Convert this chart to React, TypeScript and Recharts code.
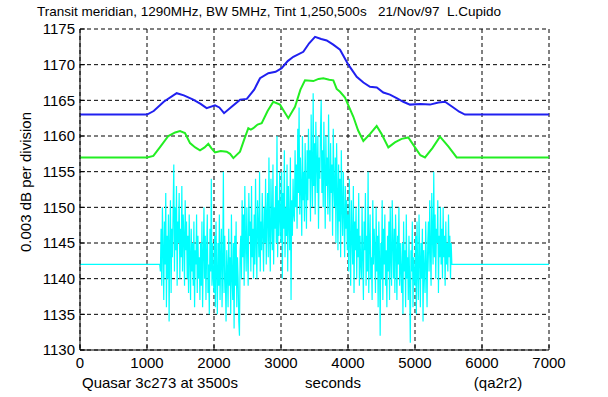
import { LineChart, Line, XAxis, YAxis, CartesianGrid } from 'recharts';

const xTicks = [0, 1000, 2000, 3000, 4000, 5000, 6000, 7000];
const yTicks = [1130, 1135, 1140, 1145, 1150, 1155, 1160, 1165, 1170, 1175];

const blueTimes = [0, 1000, 1100, 1250, 1443, 1550, 1690, 1800, 1890, 2015, 2080, 2150, 2250, 2390, 2490, 2600, 2687, 2811, 2920, 3010, 3100, 3184, 3333, 3420, 3508, 3600, 3682, 3780, 3881, 4005, 4130, 4230, 4328, 4430, 4527, 4626, 4726, 4825, 4925, 5080, 5224, 5350, 5448, 5572, 5660, 5746, 7000];
const blueValues = [1163, 1163, 1163.5, 1164.8, 1166.0, 1165.7, 1165.1, 1164.5, 1163.9, 1164.3, 1164.0, 1163.2, 1164.0, 1165.1, 1165.2, 1166.5, 1168.1, 1168.8, 1169.0, 1169.5, 1170.5, 1171.1, 1171.8, 1173.0, 1173.9, 1173.6, 1173.4, 1172.8, 1172.1, 1170.0, 1168.3, 1167.5, 1166.9, 1166.8, 1166.1, 1165.8, 1165.3, 1164.8, 1164.4, 1164.5, 1164.4, 1164.7, 1164.8, 1164.0, 1163.4, 1163, 1163];

const greenTimes = [0, 1000, 1095, 1200, 1318, 1420, 1493, 1567, 1642, 1720, 1791, 1860, 1915, 1960, 2015, 2100, 2189, 2240, 2289, 2388, 2450, 2512, 2550, 2587, 2650, 2712, 2800, 2885, 2985, 3050, 3109, 3209, 3290, 3358, 3483, 3560, 3632, 3720, 3781, 3831, 3881, 3955, 4080, 4150, 4229, 4330, 4428, 4500, 4602, 4700, 4800, 4900, 5000, 5080, 5149, 5260, 5373, 5500, 5622, 7000];
const greenValues = [1157, 1157, 1157.2, 1158.5, 1160.0, 1160.5, 1160.7, 1160.4, 1159.0, 1158.4, 1158.0, 1158.4, 1158.9, 1158.3, 1157.7, 1157.9, 1157.8, 1157.5, 1156.9, 1157.8, 1159.5, 1161.1, 1160.9, 1161.1, 1161.6, 1161.8, 1163.5, 1164.8, 1164.4, 1163.4, 1162.5, 1164.1, 1166.5, 1167.8, 1167.7, 1168.0, 1168.1, 1167.9, 1167.8, 1166.6, 1166.2, 1165.4, 1162.7, 1160.8, 1159.3, 1160.3, 1161.4, 1160.3, 1158.4, 1159.1, 1159.6, 1159.8, 1158.4, 1157.3, 1157.0, 1158.3, 1159.9, 1158.5, 1157.0, 1157];

// cyan: flat baseline, raw samples every 10 s from 1200 s to 5540 s
const cyanBase = 1142;
const cyanStart = 1200;
const cyanStep = 10;
const cyanSamples = [
  1141, 1147, 1139, 1150, 1144, 1137, 1148, 1142, 1152, 1136, 1146, 1140, 1149, 1134, 1145, 1151, 1138, 1147, 1143, 1150,
  1156, 1141, 1150, 1144, 1153, 1139, 1148, 1145, 1152, 1140, 1147, 1143, 1153, 1141, 1149, 1146, 1139, 1151, 1144, 1148,
  1140, 1146, 1138, 1149, 1143, 1137, 1147, 1141, 1145, 1139, 1148, 1136, 1144, 1142, 1149, 1138, 1146, 1140, 1143, 1137,
  1145, 1139, 1148, 1136, 1143, 1150, 1140, 1146, 1137, 1144, 1149, 1138, 1142, 1135, 1147, 1141, 1154, 1139, 1145, 1140,
  1138, 1146, 1136, 1148, 1141, 1135, 1145, 1139, 1149, 1137, 1143, 1147, 1136, 1142, 1155, 1138, 1146, 1140, 1134, 1144,
  1141, 1136, 1147, 1139, 1143, 1135, 1149, 1140, 1137, 1145, 1133, 1146, 1139, 1148, 1136, 1143, 1140, 1134, 1132, 1144,
  1146, 1140, 1151, 1143, 1149, 1139, 1153, 1145, 1141, 1150, 1144, 1139, 1152, 1146, 1148, 1141, 1153, 1143, 1147, 1140,
  1149, 1142, 1154, 1145, 1140, 1151, 1147, 1143, 1155, 1141, 1148, 1144, 1152, 1146, 1141, 1150, 1145, 1154, 1142, 1149,
  1152, 1143, 1157, 1146, 1141, 1154, 1148, 1144, 1156, 1142, 1150, 1147, 1153, 1145, 1160, 1143, 1151, 1146, 1155, 1148,
  1145, 1155, 1140, 1152, 1147, 1158, 1143, 1150, 1146, 1156, 1141, 1153, 1148, 1144, 1157, 1137, 1151, 1146, 1154, 1149,
  1148, 1158, 1150, 1156, 1147, 1161, 1152, 1164, 1149, 1157, 1153, 1146, 1160, 1151, 1155, 1148, 1159, 1153, 1147, 1158,
  1151, 1161, 1154, 1158, 1148, 1163, 1155, 1150, 1166, 1153, 1159, 1149, 1162, 1156, 1152, 1160, 1147, 1157, 1154, 1161,
  1165, 1152, 1158, 1150, 1162, 1155, 1147, 1160, 1153, 1157, 1149, 1163, 1154, 1148, 1159, 1152, 1156, 1146, 1161, 1153,
  1150, 1157, 1145, 1159, 1152, 1144, 1156, 1148, 1154, 1143, 1158, 1150, 1146, 1155, 1149, 1143, 1153, 1147, 1151, 1144,
  1149, 1141, 1154, 1145, 1139, 1151, 1146, 1142, 1153, 1138, 1148, 1144, 1150, 1140, 1147, 1143, 1152, 1139, 1146, 1142,
  1140, 1150, 1143, 1137, 1148, 1144, 1152, 1139, 1146, 1141, 1155, 1138, 1145, 1149, 1140, 1143, 1137, 1151, 1142, 1147,
  1144, 1138, 1150, 1141, 1146, 1136, 1148, 1143, 1132, 1145, 1140, 1151, 1137, 1147, 1142, 1149, 1139, 1144, 1136, 1146,
  1141, 1148, 1137, 1150, 1143, 1139, 1151, 1145, 1140, 1147, 1138, 1149, 1144, 1137, 1146, 1142, 1150, 1139, 1145, 1141,
  1138, 1145, 1135, 1148, 1141, 1144, 1136, 1149, 1140, 1143, 1137, 1146, 1139, 1131, 1144, 1141, 1148, 1136, 1143, 1140,
  1139, 1146, 1135, 1148, 1141, 1137, 1149, 1143, 1136, 1145, 1140, 1147, 1134, 1144, 1141, 1138, 1148, 1142, 1136, 1145,
  1148, 1141, 1151, 1144, 1139, 1152, 1146, 1142, 1155, 1143, 1149, 1140, 1147, 1145, 1151, 1138, 1146, 1143, 1150, 1142,
  1147, 1140, 1150, 1143, 1146, 1139, 1148, 1142, 1145, 1141, 1149, 1143, 1146, 1140, 1145,
];

const blueData = blueTimes.map((t, i) => ({ t, v: blueValues[i] }));
const greenData = greenTimes.map((t, i) => ({ t, v: greenValues[i] }));
const cyanData = [
  { t: 0, v: cyanBase },
  { t: cyanStart - cyanStep, v: cyanBase },
  ...cyanSamples.map((v, i) => ({ t: cyanStart + i * cyanStep, v })),
  { t: cyanStart + cyanSamples.length * cyanStep, v: cyanBase },
  { t: 7000, v: cyanBase },
];

const FONT = '"Liberation Sans", Arial, Helvetica, sans-serif';
const tickStyle = { fill: '#000', fontSize: 15, fontFamily: FONT };

export default function App() {
  return (
    <div style={{ position: 'absolute', left: 0, top: 0, width: 608, height: 397, background: '#fff', fontFamily: FONT, color: '#000' }}>
      <LineChart width={608} height={397} margin={{ top: 29, right: 59, bottom: 0, left: 0 }}>
        <CartesianGrid stroke="#000" strokeDasharray="4 3" horizontalValues={yTicks} verticalValues={xTicks} />
        <XAxis
          dataKey="t"
          type="number"
          domain={[0, 7000]}
          ticks={xTicks}
          height={47}
          tick={tickStyle}
          tickSize={-5}
          tickMargin={12}
          axisLine={{ stroke: '#000' }}
          tickLine={{ stroke: '#000' }}
          allowDataOverflow
        />
        <XAxis
          xAxisId="top"
          orientation="top"
          type="number"
          domain={[0, 7000]}
          ticks={xTicks}
          height={0}
          tick={false}
          axisLine={{ stroke: '#000' }}
        />
        <YAxis
          type="number"
          domain={[1130, 1175]}
          ticks={yTicks}
          width={80}
          tick={tickStyle}
          tickSize={-5}
          tickMargin={10}
          axisLine={{ stroke: '#000' }}
          tickLine={{ stroke: '#000' }}
          allowDataOverflow
        />
        <YAxis
          yAxisId="right"
          orientation="right"
          type="number"
          domain={[1130, 1175]}
          ticks={yTicks}
          width={0}
          tick={false}
          axisLine={{ stroke: '#000' }}
        />
        <Line data={cyanData} dataKey="v" stroke="#00ffff" strokeWidth={1.2} dot={false} isAnimationActive={false} />
        <Line data={greenData} dataKey="v" stroke="#22ee22" strokeWidth={2} dot={false} isAnimationActive={false} />
        <Line data={blueData} dataKey="v" stroke="#2020f0" strokeWidth={2} dot={false} isAnimationActive={false} />
      </LineChart>
      <div style={{ position: 'absolute', left: 37, top: 4, fontSize: 13.5, whiteSpace: 'pre' }}>
        {'Transit meridian, 1290MHz, BW 5MHz, Tint 1,250,500s   21/Nov/97  L.Cupido'}
      </div>
      <div
        style={{
          position: 'absolute',
          left: 25,
          top: 182,
          fontSize: 15,
          whiteSpace: 'nowrap',
          transform: 'translate(-50%, -50%) rotate(-90deg)',
        }}
      >
        0.003 dB per division
      </div>
      <div style={{ position: 'absolute', left: 82, top: 374, fontSize: 15, whiteSpace: 'nowrap' }}>Quasar 3c273 at 3500s</div>
      <div style={{ position: 'absolute', left: 333, top: 374, fontSize: 15, whiteSpace: 'nowrap', transform: 'translateX(-50%)' }}>seconds</div>
      <div style={{ position: 'absolute', left: 498, top: 374, fontSize: 15, whiteSpace: 'nowrap', transform: 'translateX(-50%)' }}>(qa2r2)</div>
    </div>
  );
}
